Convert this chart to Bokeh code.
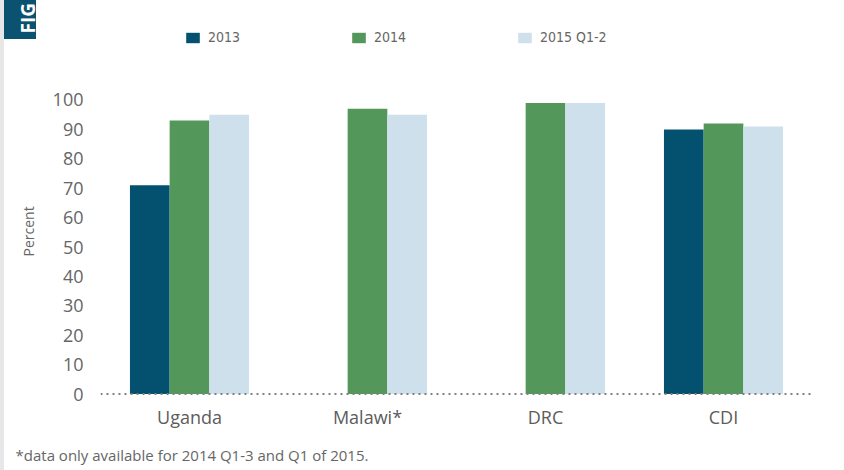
from math import pi
from bokeh.plotting import figure
from bokeh.core.properties import value
from bokeh.models import (ColumnDataSource, FactorRange, Range1d, FixedTicker, Span,
                          Legend, LegendItem, Title)
from bokeh.transform import dodge
from bokeh.embed import file_html
from bokeh.resources import INLINE

# ---- data ----
countries = ["Uganda", "Malawi*", "DRC", "CDI"]
series_names = ["2013", "2014", "2015 Q1-2"]
values_2013 = [71, None, None, 90]
values_2014 = [93, 97, 99, 92]
values_2015 = [95, 95, 99, 91]
y_ticks = [0, 10, 20, 30, 40, 50, 60, 70, 80, 90, 100]
footnote = "*data only available for 2014 Q1-3 and Q1 of 2015."
y_label = "Percent"
fig_tag = "FIG"

colors = ["#03506f", "#53975a", "#cde0eb"]
offsets = [-0.223, 0.0, 0.223]
bar_w = 0.223

W, H = 844, 470
FONT = "Open Sans"
NARROW = "Liberation Sans Narrow, DejaVu Sans Condensed, sans-serif"

p = figure(width=W, height=H, output_backend="svg", toolbar_location=None,
           x_range=FactorRange(*countries, range_padding=0),
           y_range=Range1d(-2.21, 127.04),
           min_border_left=100, min_border_right=32,
           min_border_top=20, min_border_bottom=70)
p.outline_line_color = None
p.xgrid.visible = False
p.ygrid.visible = False
p.background_fill_color = "white"
p.border_fill_color = None
p.styles = {"background": "linear-gradient(#0b5170, #0b5170) 4px 0px / 32px 39px no-repeat, "
                          "linear-gradient(to right, #e6e7e9 4px, #ffffff 4px)"}

items = []
for name, vals, off, col in zip(series_names, [values_2013, values_2014, values_2015], offsets, colors):
    xs = [c for c, v in zip(countries, vals) if v is not None]
    ys = [v for v in vals if v is not None]
    src = ColumnDataSource(dict(country=xs, value=ys))
    r = p.vbar(x=dodge("country", off, range=p.x_range), top="value", bottom=0,
               width=bar_w, source=src, fill_color=col, line_color=None)
    items.append(LegendItem(label=name, renderers=[r]))

# dotted baseline
p.add_layout(Span(location=0, dimension="width", line_color="#808080",
                  line_width=2, line_dash="2 4"))

# axes
p.yaxis.ticker = FixedTicker(ticks=y_ticks)
p.yaxis.axis_line_color = None
p.yaxis.major_tick_line_color = None
p.yaxis.minor_tick_line_color = None
p.yaxis.major_tick_out = 0
p.yaxis.major_label_standoff = 17
p.yaxis.major_label_text_font = FONT
p.yaxis.major_label_text_font_size = "18px"
p.yaxis.major_label_text_color = "#666666"

p.xaxis.axis_line_color = None
p.xaxis.major_tick_line_color = None
p.xaxis.minor_tick_line_color = None
p.xaxis.major_tick_out = 0
p.xaxis.major_label_standoff = 4
p.xaxis.major_label_text_font = FONT
p.xaxis.major_label_text_font_size = "18px"
p.xaxis.major_label_text_color = "#5c5c5c"

# legend inside the (invisible) top of the frame
legend = Legend(items=items, location=(84, 355), orientation="horizontal",
                glyph_width=17, glyph_height=13, label_standoff=7, label_width=142,
                label_height=13, spacing=0, padding=0, margin=0,
                border_line_color=None, background_fill_alpha=0,
                label_text_font=NARROW, label_text_font_size="14px",
                label_text_color="#666666")
p.add_layout(legend)

# y label as a side title (starts at the frame bottom minus offset)
p.add_layout(Title(text=y_label, align="left", vertical_align="top", offset=144,
                   standoff=19, text_font=FONT, text_font_size="14px",
                   text_font_style="normal", text_color="#666666"), "left")

# figure tag in the top-left corner (unclipped annotation-level text)
p.text(x=[-0.4045], y=[122.62], text=[fig_tag], angle=pi / 2,
       text_align="left", text_baseline="alphabetic", text_color="white",
       text_font=value(FONT), text_font_style="bold", text_font_size="19px",
       level="annotation")

# footnote under the axis (unclipped annotation-level text)
p.text(x=[-0.4775], y=[-20.9], text=[footnote],
       text_align="left", text_baseline="alphabetic", text_color="#666666",
       text_font=value(FONT), text_font_size="15px", level="annotation")

open("out.html", "w").write(file_html(p, INLINE))
